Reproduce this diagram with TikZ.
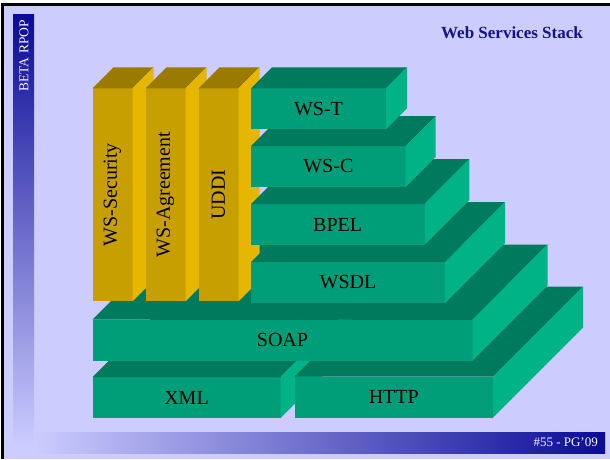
\documentclass[tikz,border=0pt]{standalone}
\usepackage{fontspec}
\setmainfont{Liberation Serif}

\definecolor{panel}{HTML}{CCCCFF}
\definecolor{navy}{HTML}{0A0A96}
\definecolor{titleblue}{HTML}{141489}
\definecolor{greenfront}{HTML}{009E78}
\definecolor{greenside}{HTML}{00B386}
\definecolor{greentop}{HTML}{007A5C}
\definecolor{goldfront}{HTML}{C89F00}
\definecolor{goldside}{HTML}{E5B700}
\definecolor{goldtop}{HTML}{9A7B00}

\begin{document}
\begin{tikzpicture}[
    x=1pt, y=-1pt,
    layer/.style={fill=greenfront, minimum height=41pt, anchor=north west,
        inner sep=0pt, outer sep=0pt, font=\fontsize{20}{24}\selectfont},
    pillar/.style={fill=goldfront, minimum width=40pt, minimum height=213pt,
        anchor=north west, inner sep=0pt, outer sep=0pt},
    pillar text/.style={rotate=90, inner sep=0pt, font=\fontsize{20}{24}\selectfont},
]
    \useasboundingbox (0,0) rectangle (610,459);
    \fill[white] (0,0) rectangle (610,459);
    \fill[panel] (4,6) rectangle (610,459);
    \fill[black] (1,3.3) rectangle (4,459);
    \fill[black] (1,3.3) rectangle (610,6);

    % side bar and foot bar
    \shade[top color=navy, bottom color=panel] (13,14) rectangle (34,445);
    \shade[left color=panel, right color=navy] (34,432) rectangle (605,453);
    \node[rotate=90, anchor=east, inner sep=0pt, text=white!85!panel,
        font=\fontsize{13.5}{16}\selectfont] (beta) at (24,20) {BETA RPOP};
    \node[anchor=east, inner sep=0pt, text=white!85!panel,
        font=\fontsize{13}{15}\selectfont] (page) at (598,442.5) {\#55 - PG’09};
    \node[anchor=east, inner sep=0pt, text=titleblue,
        font=\fontsize{17}{20}\selectfont\bfseries] (title) at (583,33) {Web Services Stack};

    % base layers, back to front
    \foreach \n/\x/\y/\w/\d/\t in {xml/92.5/377/188/90/XML,
                                   http/294.5/376.5/198.5/90/HTTP,
                                   soap/92.5/319.5/380/75/SOAP}{
        \node[layer, minimum width=\w pt] (\n) at (\x,\y) {\t};
        \fill[greentop] (\n.north west) -- ++(\d,-\d)
            -- ([shift={(\d,-\d)}]\n.north east) -- (\n.north east) -- cycle;
        \fill[greenside] (\n.north east) -- ([shift={(\d,-\d)}]\n.north east)
            -- ([shift={(\d,-\d)}]\n.south east) -- (\n.south east) -- cycle;
    }

    % pillars
    \foreach \n/\x/\t in {sec/92.5/WS-Security, agr/145.5/WS-Agreement, uddi/198.5/UDDI}{
        \node[pillar] (\n) at (\x,88.3) {};
        \fill[goldtop] (\n.north west) -- ++(21,-21)
            -- ([shift={(21,-21)}]\n.north east) -- (\n.north east) -- cycle;
        \fill[goldside] (\n.north east) -- ([shift={(21,-21)}]\n.north east)
            -- ([shift={(21,-21)}]\n.south east) -- (\n.south east) -- cycle;
        \node[pillar text] (\n-text) at (\n.center) {\t};
    }

    % stairs, bottom to top
    \foreach \n/\y/\w/\d/\t in {wsdl/262/194/60/WSDL, bpel/204/173.3/45/BPEL,
                                wsc/146/154.7/30/WS-C, wst/88.3/135/21/WS-T}{
        \node[layer, minimum width=\w pt] (\n) at (251,\y) {\t};
        \fill[greentop] (\n.north west) -- ++(\d,-\d)
            -- ([shift={(\d,-\d)}]\n.north east) -- (\n.north east) -- cycle;
        \fill[greenside] (\n.north east) -- ([shift={(\d,-\d)}]\n.north east)
            -- ([shift={(\d,-\d)}]\n.south east) -- (\n.south east) -- cycle;
    }
\end{tikzpicture}
\end{document}
